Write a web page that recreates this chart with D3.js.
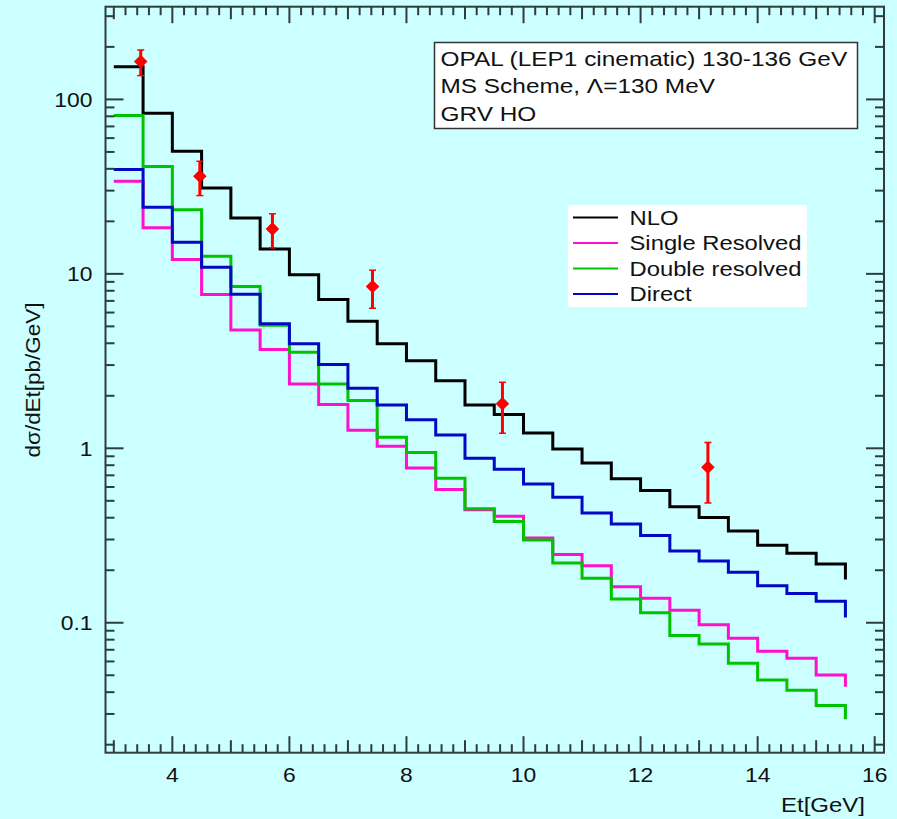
<!DOCTYPE html>
<html lang="en">
  <head>
    <meta charset="utf-8">
    <title>OPAL jet Et distribution</title>
    <style>
      html, body { margin: 0; padding: 0; background: #ccffff; }
      svg { display: block; }
      text { font-family: "Liberation Sans", Arial, Helvetica, sans-serif; fill: #111; }
    </style>
  </head>
  <body>
    <script src="https://cdn.jsdelivr.net/npm/d3@7"></script>
    <script>

    // bin lower edges (Et, GeV); the last entry is the upper edge of the last bin
    var edges = [3.0, 3.5, 4.0, 4.5, 5.0, 5.5, 6.0, 6.5, 7.0, 7.5, 8.0, 8.5, 9.0,
                 9.5, 10.0, 10.5, 11.0, 11.5, 12.0, 12.5, 13.0, 13.5, 14.0, 14.5, 15.0, 15.5];

    var nlo = [154, 83.4, 50.5, 31.1, 20.9, 13.9, 9.87, 7.12, 5.35, 3.98, 3.18, 2.44, 1.77,
               1.56, 1.225, 0.99, 0.825, 0.668, 0.572, 0.463, 0.401, 0.336, 0.278, 0.250, 0.217];
    var singleRes = [34.0, 18.4, 12.1, 7.61, 4.77, 3.68, 2.34, 1.78, 1.27, 1.027, 0.772, 0.580, 0.445,
                     0.408, 0.306, 0.246, 0.212, 0.161, 0.138, 0.118, 0.0975, 0.0814, 0.0686, 0.0625, 0.0502];
    var doubleRes = [80.9, 41.2, 23.3, 12.6, 8.45, 5.08, 3.55, 2.34, 1.88, 1.156, 0.945, 0.673, 0.45,
                     0.380, 0.298, 0.220, 0.180, 0.137, 0.114, 0.0844, 0.0755, 0.0585, 0.047, 0.041, 0.0335];
    var direct = [39.6, 24.1, 15.2, 10.9, 7.64, 5.17, 3.97, 3.02, 2.21, 1.77, 1.46, 1.19, 0.877,
                  0.758, 0.625, 0.524, 0.426, 0.368, 0.316, 0.258, 0.226, 0.195, 0.163, 0.147, 0.133];
    // value each curve drops to at the right edge
    var endDrop = { nlo: 0.177, single: 0.043, double: 0.028, direct: 0.107 };

    // OPAL data points
    var dataEt  = [3.46, 4.47, 5.71, 7.42, 9.64, 13.15];
    var dataVal = [165, 36.3, 18.1, 8.46, 1.80, 0.778];
    var dataHi  = [192, 44.2, 22.1, 10.5, 2.39, 1.08];
    var dataLo  = [137, 28.1, 14.1, 6.35, 1.22, 0.486];

    var legendNames = ["NLO", "Single Resolved", "Double resolved", "Direct"];
    var titleLines = ["OPAL (LEP1 cinematic) 130-136 GeV", "MS Scheme, \u039B=130 MeV", "GRV HO"];
    var yTickLabels = [0.1, 1, 10, 100];
    var xTickLabels = [4, 6, 8, 10, 12, 14, 16];

    var w = 897, h = 819,
        fLeft = 105.5, fRight = 884, fTop = 6.7, fBottom = 752.7,
        frameColor = "#2f3c3c";

    var x = d3.scaleLinear().domain([2.858, 16.159]).range([fLeft, fRight]);
    var y = d3.scaleLog().domain([0.01799, 340]).range([fBottom, fTop]);

    var svg = d3.select("body").append("svg")
        .attr("width", w)
        .attr("height", h);

    // stretched text helper (reference glyphs are wider than Arial)
    function label(g, tx, ty, str, size, sx, anchor) {
      return g.append("text")
          .attr("transform", "translate(" + tx + "," + ty + ") scale(" + sx + ",1)")
          .attr("text-anchor", anchor || "start")
          .style("font-size", size + "px")
          .text(str);
    }

    // ---- curves ----
    var line = d3.line()
        .x(function(d) { return x(d[0]); })
        .y(function(d) { return y(d[1]); })
        .curve(d3.curveStepAfter);

    function stepPoints(vals, end) {
      var pts = vals.map(function(v, i) { return [edges[i], v]; });
      pts.push([edges[vals.length], vals[vals.length - 1]]);
      pts.push([edges[vals.length], end]);
      return pts;
    }

    var series = [
      {vals: nlo, end: endDrop.nlo, color: "#000000"},
      {vals: singleRes, end: endDrop.single, color: "#ff10cc"},
      {vals: doubleRes, end: endDrop.double, color: "#00c400"},
      {vals: direct, end: endDrop.direct, color: "#0008c4"}
    ];

    svg.append("g").selectAll("path")
        .data(series)
      .enter().append("path")
        .attr("d", function(d) { return line(stepPoints(d.vals, d.end)); })
        .attr("fill", "none")
        .attr("stroke", function(d) { return d.color; })
        .attr("stroke-width", 3);

    // ---- data points ----
    var pts = svg.append("g").selectAll("g")
        .data(dataEt.map(function(e, i) { return {e: e, v: dataVal[i], hi: dataHi[i], lo: dataLo[i]}; }))
      .enter().append("g");

    pts.append("line")
        .attr("x1", function(d) { return x(d.e); })
        .attr("x2", function(d) { return x(d.e); })
        .attr("y1", function(d) { return y(d.hi); })
        .attr("y2", function(d) { return y(d.lo); })
        .attr("stroke", "#ff0000")
        .attr("stroke-width", 3);

    ["hi", "lo"].forEach(function(k) {
      pts.append("line")
          .attr("x1", function(d) { return x(d.e) - 3.5; })
          .attr("x2", function(d) { return x(d.e) + 3.5; })
          .attr("y1", function(d) { return y(d[k]); })
          .attr("y2", function(d) { return y(d[k]); })
          .attr("stroke", "#ff0000")
          .attr("stroke-width", 1.5);
    });

    pts.append("path")
        .attr("d", d3.symbol(d3.symbolSquare, 92))
        .attr("transform", function(d) { return "translate(" + x(d.e) + "," + y(d.v) + ") rotate(45)"; })
        .attr("fill", "#ff0000");

    // ---- frame and ticks ----
    svg.append("rect")
        .attr("x", fLeft).attr("y", fTop)
        .attr("width", fRight - fLeft).attr("height", fBottom - fTop)
        .attr("fill", "none")
        .attr("stroke", frameColor)
        .attr("stroke-width", 2);

    var ticks = svg.append("g")
        .attr("stroke", frameColor)
        .attr("stroke-width", 2);

    y.ticks().forEach(function(t) {
      var major = Math.abs(Math.log10(t) - Math.round(Math.log10(t))) < 1e-6,
          len = major ? 18 : 9,
          py = y(t);
      if (py > fBottom - 1 || py < fTop + 1) return;
      ticks.append("line").attr("x1", fLeft).attr("x2", fLeft + len).attr("y1", py).attr("y2", py);
      ticks.append("line").attr("x1", fRight).attr("x2", fRight - len).attr("y1", py).attr("y2", py);
    });

    d3.range(15, 81).map(function(i) { return i / 5; }).forEach(function(t) {
      var px = x(t);
      if (px < fLeft + 1 || px > fRight - 1) return;
      var len = (t % 2 === 0) ? 16.5 : (Number.isInteger(t) ? 12.5 : 8.5);
      ticks.append("line").attr("x1", px).attr("x2", px).attr("y1", fBottom).attr("y2", fBottom - len);
      ticks.append("line").attr("x1", px).attr("x2", px).attr("y1", fTop).attr("y2", fTop + len);
    });

    // ---- tick labels ----
    var labels = svg.append("g");
    yTickLabels.forEach(function(t) {
      label(labels, 92.5, y(t) + 7.5, String(t), 21, 1.09, "end");
    });
    xTickLabels.forEach(function(t) {
      label(labels, x(t), 781.5, String(t), 21, 1.09, "middle");
    });

    // axis titles
    label(labels, 865, 811.5, "Et[GeV]", 20, 1.2, "end");
    labels.append("text")
        .attr("transform", "translate(39.5,380) rotate(-90) scale(1.07,1)")
        .attr("text-anchor", "middle")
        .style("font-size", "21px")
        .text("d\u03C3/dEt[pb/GeV]");

    // ---- info box ----
    var info = svg.append("g");
    info.append("rect")
        .attr("x", 434.5).attr("y", 42.5)
        .attr("width", 423).attr("height", 86)
        .attr("fill", "#ffffff")
        .attr("stroke", "#333333")
        .attr("stroke-width", 1.5);
    titleLines.forEach(function(s, i) {
      label(info, 440.5, 65.5 + i * 27.5, s, 20, 1.22);
    });

    // ---- legend ----
    var legend = svg.append("g");
    legend.append("rect")
        .attr("x", 568).attr("y", 205)
        .attr("width", 239).attr("height", 102)
        .attr("fill", "#ffffff");
    series.forEach(function(s, i) {
      var ly = 217.5 + i * 25.5;
      legend.append("line")
          .attr("x1", 573).attr("x2", 618)
          .attr("y1", ly).attr("y2", ly)
          .attr("stroke", s.color)
          .attr("stroke-width", 2);
      label(legend, 629.5, ly + 7, legendNames[i], 20, 1.19);
    });

    </script>
  </body>
</html>
